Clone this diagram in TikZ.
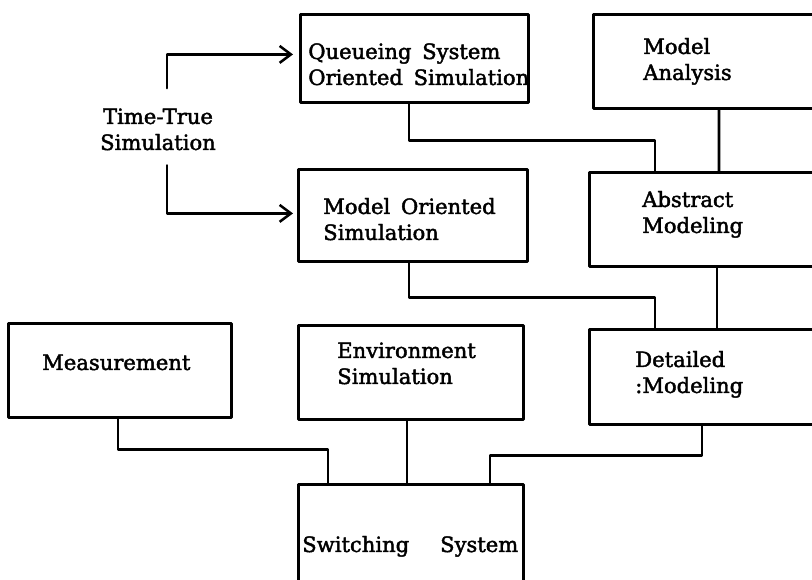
\documentclass[tikz,border=0pt]{standalone}
\usepackage{fontspec}
\setmainfont{DejaVu Serif}[WordSpace=1.6,FakeBold=2]
\usetikzlibrary{arrows.meta}

\begin{document}
\begin{tikzpicture}[line cap=round,line join=round,x=1.0cm,y=1.0cm,
  box/.style={draw,line width=2pt,rectangle,anchor=north west,inner sep=0pt},
  lbl/.style={anchor=base west,align=left,inner sep=0pt,font=\fontsize{15}{18.5}\selectfont},
  link/.style={line width=2pt},
  flow/.style={line width=1.8pt,-{Straight Barb[length=8pt,width=12pt]}}]

\useasboundingbox (0,0) rectangle (20.3,14.5);
\clip (0,0) rectangle (20.3,14.5);

% boxes
\node[box,minimum width=5.7cm,minimum height=2.2cm] (qsim) at (7.475,14.175) {};
\node[box,minimum width=6.2cm,minimum height=2.35cm] (mana) at (14.8,14.175) {};
\node[box,minimum width=5.725cm,minimum height=2.3cm] (mosim) at (7.425,10.3) {};
\node[box,minimum width=6.2cm,minimum height=2.35cm] (absm) at (14.7,10.225) {};
\node[box,minimum width=5.575cm,minimum height=2.35cm] (meas) at (0.175,6.45) {};
\node[box,minimum width=5.625cm,minimum height=2.35cm] (envs) at (7.425,6.4) {};
\node[box,minimum width=6.2cm,minimum height=2.375cm] (detm) at (14.7,6.3) {};
\node[box,minimum width=5.625cm,minimum height=2.8cm] (swsys) at (7.425,2.425) {};

% texts (base = last line)
\node[lbl] (qsimtxt) at ([shift={(0.225,-1.8)}]qsim.north west) {Queueing System\\Oriented Simulation};
\node[lbl] (manatxt) at ([shift={(1.275,-1.675)}]mana.north west) {Model\\Analysis};
\node[lbl] (mosimtxt) at ([shift={(0.65,-1.8)}]mosim.north west) {Model Oriented\\Simulation};
\node[lbl] (absmtxt) at ([shift={(1.35,-1.55)}]absm.north west) {Abstract\\Modeling};
\node[lbl] (meastxt) at ([shift={(0.875,-1.2)}]meas.north west) {Measurement};
\node[lbl] (envstxt) at ([shift={(1.0,-1.5)}]envs.north west) {Environment\\Simulation};
\node[lbl] (detmtxt) at ([shift={(1.175,-1.625)}]detm.north west) {Detailed\\:Modeling};
\node[lbl,text width=5.4cm] (swsystxt) at ([shift={(0.125,-1.725)}]swsys.north west) {Switching\hfill System};
\node[lbl,anchor=base,align=center] (tts) at (3.95,10.75) {Time-True\\Simulation};

% Time-True brackets
\draw[flow] ([xshift=0.225cm,yshift=0.5cm]tts.north) |- ([xshift=-0.15cm,yshift=0.1cm]qsim.west);
\draw[flow] ([xshift=0.225cm,yshift=-0.37cm]tts.south) |- ([xshift=-0.1cm,yshift=0.05cm]mosim.west);

% connectors
\draw[link] ([xshift=2.75cm]qsim.south west) -- ++(0,-0.925) -| ([xshift=1.675cm]absm.north west);
\draw[link] ([xshift=3.175cm]mana.south west) -- ([xshift=3.275cm]absm.north west);
\draw[link] ([xshift=2.8cm]mosim.south west) -- ++(0,-0.875) -| ([xshift=1.675cm]detm.north west);
\draw[link] ([xshift=3.225cm]absm.south west) -- ([xshift=3.225cm]detm.north west);
\draw[link] ([xshift=2.85cm]detm.south west) -- ++(0,-0.75) -| ([xshift=4.825cm]swsys.north west);
\draw[link] ([xshift=2.75cm]envs.south west) -- ([xshift=2.75cm]swsys.north west);
\draw[link] ([xshift=2.775cm]meas.south west) -- ++(0,-0.775) -| ([xshift=0.775cm]swsys.north west);
\end{tikzpicture}
\end{document}
